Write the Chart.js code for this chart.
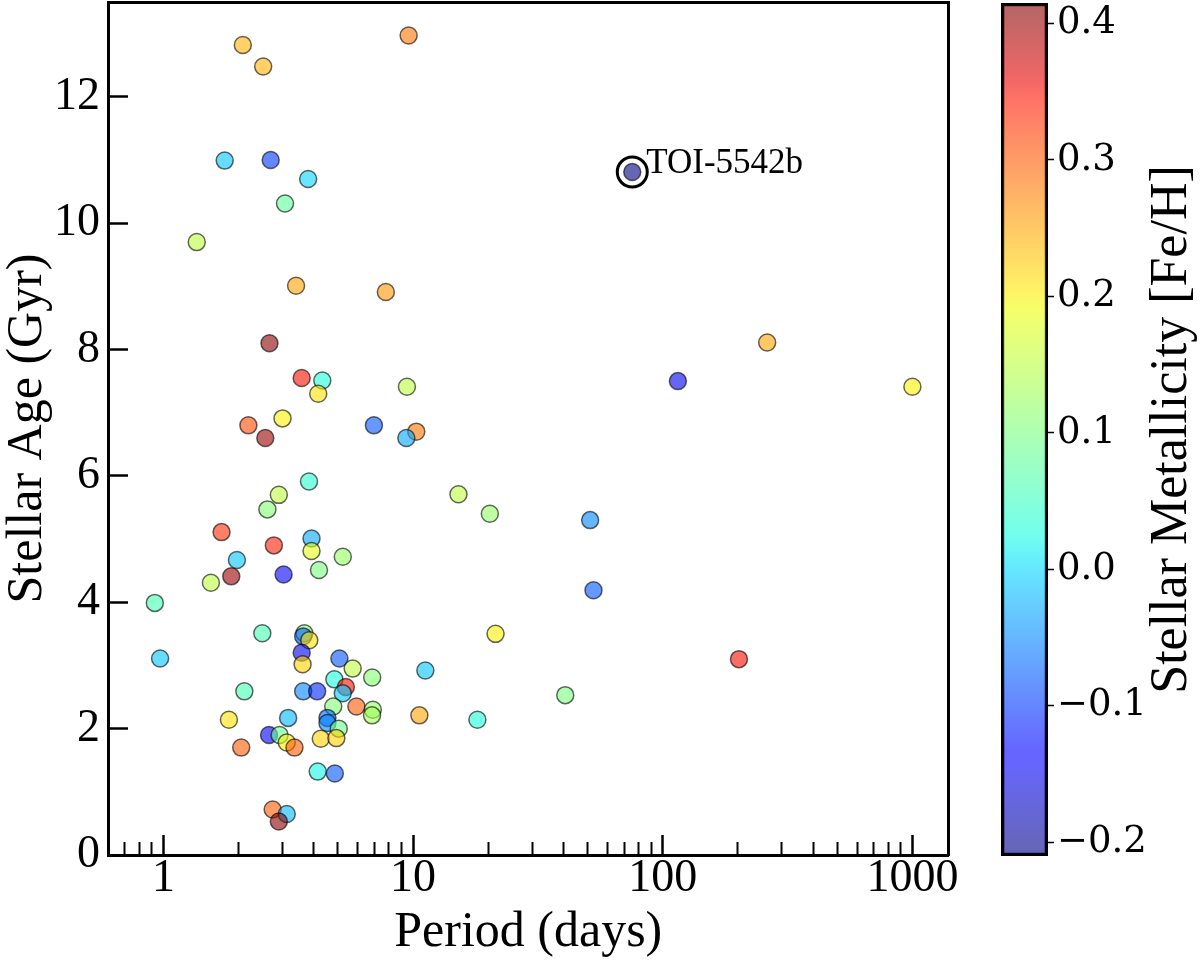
<!DOCTYPE html>
<html><head><meta charset="utf-8">
<script src="https://cdn.jsdelivr.net/npm/chart.js@4.4.1/dist/chart.umd.min.js"></script>
<style>
html,body{margin:0;padding:0;background:#fff;}
#wrap{position:relative;width:1200px;height:961px;overflow:hidden;background:#fff;}
#main{position:absolute;left:0;top:0;}
#cbar{position:absolute;left:990px;top:0;}
</style></head><body>
<div id="wrap">
<canvas id="main" width="990" height="961"></canvas>
<canvas id="cbar" width="210" height="961"></canvas>
</div>
<script>
// ---- data ----
const periods = [2.08, 2.51, 9.6, 1.76, 2.69, 3.80, 3.07, 1.36, 3.40, 7.78,
 2.66, 3.58, 4.33, 4.17, 9.45, 2.19, 3.00, 2.56, 6.97, 10.3,
 9.4, 3.83, 2.90, 2.61, 15.2, 1.71, 2.77, 3.92, 3.92, 5.23,
 1.97, 4.20, 1.55, 1.87, 3.03, 0.924, 0.97, 2.49, 3.67, 3.63,
 3.84, 3.58, 3.61, 5.07, 5.73, 6.86, 11.2, 2.11, 3.63, 4.13,
 4.84, 5.38, 5.23, 5.93, 4.79, 6.9, 6.85, 10.6, 3.16, 1.83,
 4.54, 4.54, 5.04, 2.65, 2.92, 3.12, 3.35, 4.27, 4.93, 2.05,
 4.15, 4.86, 2.74, 3.12, 2.90, 262, 115, 1000, 20.3, 51.2,
 52.8, 21.4, 202, 40.7, 18.1];
const ages = [12.82, 12.48, 12.97, 10.99, 11.00, 10.70, 10.31, 9.70, 9.01, 8.91,
 8.10, 7.55, 7.51, 7.30, 7.41, 6.80, 6.91, 6.60, 6.80, 6.70,
 6.60, 5.91, 5.70, 5.47, 5.71, 5.11, 4.90, 5.01, 4.81, 4.72,
 4.67, 4.51, 4.31, 4.41, 4.44, 3.99, 3.11, 3.51, 3.51, 3.46,
 3.40, 3.20, 3.02, 3.11, 2.95, 2.81, 2.92, 2.59, 2.59, 2.59,
 2.78, 2.66, 2.56, 2.35, 2.35, 2.30, 2.21, 2.21, 2.17, 2.14,
 2.17, 2.09, 2.00, 1.90, 1.90, 1.78, 1.70, 1.84, 1.85, 1.70,
 1.32, 1.29, 0.72, 0.65, 0.53, 8.11, 7.50, 7.41, 5.40, 5.30,
 4.19, 3.50, 3.10, 2.53, 2.14];
const fehs = [0.24, 0.24, 0.28, -0.01, -0.10, 0.00, 0.08, 0.15, 0.25, 0.26,
 0.41, 0.35, 0.03, 0.21, 0.15, 0.31, 0.20, 0.40, -0.08, 0.28,
 -0.03, 0.04, 0.15, 0.11, 0.15, 0.33, 0.34, -0.03, 0.18, 0.12,
 -0.01, 0.10, 0.15, 0.40, -0.14, 0.06, -0.01, 0.06, 0.10, -0.08,
 0.21, -0.15, 0.22, -0.08, 0.15, 0.11, -0.01, 0.06, -0.05, -0.11,
 0.03, 0.35, -0.01, 0.30, 0.11, 0.12, 0.13, 0.25, -0.02, 0.21,
 -0.07, -0.05, 0.09, -0.14, 0.09, 0.20, 0.30, 0.22, 0.22, 0.30,
 0.02, -0.08, 0.30, -0.02, 0.41, 0.25, -0.15, 0.20, 0.12, -0.05,
 -0.08, 0.20, 0.35, 0.10, 0.03];
const targetName = 'TOI-5542b';
const targetPeriod = [75.5];
const targetAge = [10.81];
const targetFeh = [-0.21];

const xMajorTicks = [1, 10, 100, 1000];
const xMinorTicks = [0.7, 0.8, 0.9, 2, 3, 4, 5, 6, 7, 8, 9, 20, 30, 40, 50, 60, 70, 80, 90, 200, 300, 400, 500, 600, 700, 800, 900];
const yTicks = [0, 2, 4, 6, 8, 10, 12];
const cbTicks = [-0.2, -0.1, 0.0, 0.1, 0.2, 0.3, 0.4];
const xTitle = 'Period (days)';
const yTitle = 'Stellar Age (Gyr)';
const cbTitle = 'Stellar Metallicity [Fe/H]';
const X_MIN = 0.643, X_MAX = 1395, Y_MIN = 0, Y_MAX = 13.5, C_MIN = -0.21, C_MAX = 0.415;

// ---- jet colormap ----
const ALPHA = 0.6;
const JR = [[0,0],[0.35,0],[0.66,1],[0.89,1],[1,0.5]];
const JG = [[0,0],[0.125,0],[0.375,1],[0.64,1],[0.91,0],[1,0]];
const JB = [[0,0.5],[0.11,1],[0.34,1],[0.65,0],[1,0]];
function interp(p, t){ for (let i=1;i<p.length;i++){ if (t<=p[i][0]) { const [x0,y0]=p[i-1],[x1,y1]=p[i]; return y0+(y1-y0)*(t-x0)/(x1-x0); } } return p[p.length-1][1]; }
function jet(t, a){ t=Math.min(1,Math.max(0,t)); return 'rgba('+Math.round(255*interp(JR,t))+','+Math.round(255*interp(JG,t))+','+Math.round(255*interp(JB,t))+','+a+')'; }
const norm = f => (f - C_MIN) / (C_MAX - C_MIN);

Chart.defaults.font.family = '"Liberation Serif", "Times New Roman", serif';
Chart.defaults.color = '#000';

function noPad(s){ s.paddingTop = 0; s.paddingBottom = 0; s.paddingLeft = 0; s.paddingRight = 0; }

const toiLabel = {
  id: 'toiLabel',
  afterDatasetsDraw(chart){
    const {ctx, scales:{x, y}} = chart;
    const px = x.getPixelForValue(targetPeriod[0]), py = y.getPixelForValue(targetAge[0]);
    ctx.save();
    ctx.font = '35px "Liberation Serif"';
    ctx.fillStyle = '#000';
    ctx.textAlign = 'left';
    ctx.textBaseline = 'alphabetic';
    ctx.fillText(targetName, px + 14, py + 1);
    ctx.restore();
  }
};

const pts = periods.map((p, i) => ({x: p, y: ages[i]}));
const tpt = targetPeriod.map((p, i) => ({x: p, y: targetAge[i]}));

new Chart(document.getElementById('main'), {
  type: 'scatter',
  data: { datasets: [
    { label: 'planets', data: pts, backgroundColor: fehs.map(f => jet(norm(f), ALPHA)),
      borderColor: 'rgba(0,0,0,0.6)', borderWidth: 1.5, pointRadius: 8.5, pointHoverRadius: 8.5 },
    { label: 'ring', data: tpt, backgroundColor: 'rgba(0,0,0,0)', borderColor: '#000', borderWidth: 3, pointRadius: 15 },
    { label: targetName, data: tpt, backgroundColor: targetFeh.map(f => jet(norm(f), ALPHA)),
      borderColor: 'rgba(0,0,0,0.6)', borderWidth: 1.5, pointRadius: 8.5 }
  ]},
  options: {
    responsive: false, animation: false, events: [],
    layout: { autoPadding: false, padding: { left: 0, top: 2, right: 41.5, bottom: 0 } },
    plugins: { legend: { display: false }, tooltip: { enabled: false } },
    scales: {
      x: { type: 'logarithmic', position: 'bottom', weight: 1, min: X_MIN, max: X_MAX,
        afterBuildTicks: s => { s.ticks = xMajorTicks.map(v => ({value: v, major: true})); },
        afterFit: s => { s.height = 106; noPad(s); },
        ticks: { autoSkip: false, maxRotation: 0, minRotation: 0, padding: 16, color: '#000', font: { size: 46 }, callback: v => String(v) },
        grid: { drawOnChartArea: false, drawTicks: true, tickLength: -20, tickWidth: 2.5, tickColor: '#000' },
        border: { display: true, color: '#000', width: 3 },
        title: { display: true, text: xTitle, color: '#000', font: { size: 50, lineHeight: 1 }, padding: { top: 0, bottom: 3 } }
      },
      xm: { type: 'logarithmic', position: 'bottom', weight: 0, min: X_MIN, max: X_MAX,
        afterBuildTicks: s => { s.ticks = xMinorTicks.map(v => ({value: v})); },
        afterFit: s => { s.height = 0; noPad(s); },
        ticks: { display: false, autoSkip: false },
        grid: { drawOnChartArea: false, drawTicks: true, tickLength: -13, tickWidth: 2, tickColor: '#000' },
        border: { display: false }
      },
      xt: { type: 'linear', position: 'top', afterFit: s => { s.height = 0; noPad(s); },
        ticks: { display: false }, grid: { drawOnChartArea: false, drawTicks: false },
        border: { display: true, color: '#000', width: 3 } },
      y: { type: 'linear', position: 'left', min: Y_MIN, max: Y_MAX,
        afterBuildTicks: s => { s.ticks = yTicks.map(v => ({value: v})); },
        afterFit: s => { s.width = 108; noPad(s); },
        ticks: { autoSkip: false, padding: 28, color: '#000', font: { size: 46 }, callback: v => String(v) },
        grid: { drawOnChartArea: false, drawTicks: true, tickLength: -20, tickWidth: 2.5, tickColor: '#000' },
        border: { display: true, color: '#000', width: 3 },
        title: { display: true, text: yTitle, color: '#000', font: { size: 50, lineHeight: 1 }, padding: { top: 3, bottom: 0 } }
      },
      yr: { type: 'linear', position: 'right', afterFit: s => { s.width = 0; noPad(s); },
        ticks: { display: false }, grid: { drawOnChartArea: false, drawTicks: false },
        border: { display: true, color: '#000', width: 3 } }
    }
  },
  plugins: [toiLabel]
});

// ---- colour bar ----
const cbLabel = {
  id: 'cbLabel',
  afterDraw(chart){
    const {ctx, chartArea: a} = chart;
    ctx.save();
    ctx.translate(182.5, (a.top + a.bottom) / 2);
    ctx.rotate(-Math.PI / 2);
    ctx.font = '52px "Liberation Serif"';
    ctx.fillStyle = '#000';
    ctx.textAlign = 'center';
    ctx.textBaseline = 'middle';
    ctx.fillText(cbTitle, 0, 0);
    ctx.restore();
  }
};

new Chart(document.getElementById('cbar'), {
  type: 'bar',
  data: { labels: [''], datasets: [{
    data: [[C_MIN, C_MAX]],
    backgroundColor: (c) => {
      const ch = c.chart, ys = ch.scales.y;
      if (!ch.chartArea || !ys) return 'rgba(0,0,0,0)';
      const g = ch.ctx.createLinearGradient(0, ys.getPixelForValue(C_MIN), 0, ys.getPixelForValue(C_MAX));
      for (let i = 0; i <= 64; i++) { const t = i / 64; g.addColorStop(t, jet(t, ALPHA)); }
      return g;
    },
    borderColor: '#000', borderWidth: 3, borderSkipped: false,
    barPercentage: 1, categoryPercentage: 1
  }]},
  options: {
    responsive: false, animation: false, events: [],
    layout: { autoPadding: false, padding: { left: 11, top: 3, right: 0, bottom: 105 } },
    plugins: { legend: { display: false }, tooltip: { enabled: false } },
    scales: {
      x: { display: false },
      y: { position: 'right', min: C_MIN, max: C_MAX,
        afterBuildTicks: s => { s.ticks = cbTicks.map(v => ({value: v})); },
        afterFit: s => { s.width = 152; noPad(s); },
        ticks: { autoSkip: false, padding: 3, color: '#000', font: { family: '"DejaVu Serif"', size: 37 },
          callback: v => Number(v).toFixed(1).replace('-', '\u2212') },
        grid: { drawOnChartArea: false, drawTicks: true, tickLength: 6, tickWidth: 1.5, tickColor: '#000' },
        border: { display: false }
      }
    }
  },
  plugins: [cbLabel]
});
</script>
</body></html>
